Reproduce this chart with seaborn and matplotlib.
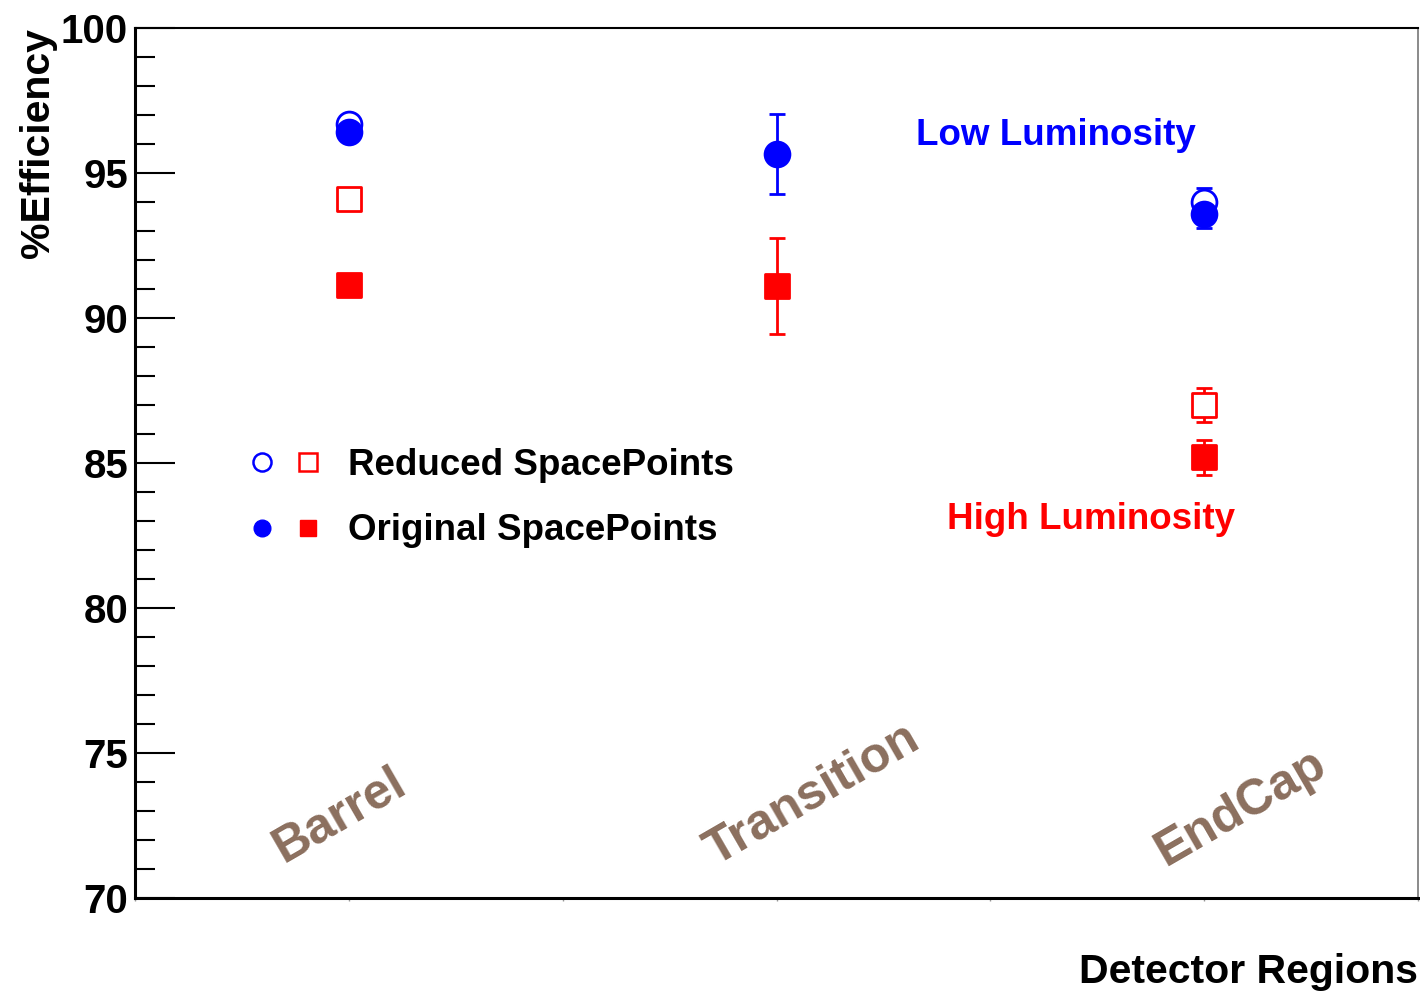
import numpy as np
import pandas as pd
import matplotlib
matplotlib.use("Agg")
import matplotlib.pyplot as plt
import seaborn as sns
from matplotlib.lines import Line2D
from matplotlib.legend_handler import HandlerTuple
from matplotlib.ticker import MultipleLocator

# detector regions, drawn at the centres of three unit-wide bins
regions = ["Barrel", "Transition", "EndCap"]
region_x = [0.5, 1.5, 2.5]

# low luminosity (blue circles)
low_reduced = [96.7, np.nan, 94.0]
low_reduced_err = [0.15, np.nan, 0.5]
low_original = [96.4, 95.65, 93.6]
low_original_err = [0.15, 1.38, 0.5]

# high luminosity (red squares)
high_reduced = [94.1, np.nan, 87.0]
high_reduced_err = [0.15, np.nan, 0.6]
high_original = [91.15, 91.1, 85.2]
high_original_err = [0.15, 1.65, 0.6]

BLUE = "#0000ff"
RED = "#ff0000"
BROWN = "#8b6f5e"

sns.set_style("ticks")
plt.rcParams["font.family"] = ["Liberation Sans", "DejaVu Sans"]
plt.rcParams["font.weight"] = "bold"
for key in ["text.color", "axes.labelcolor", "xtick.color", "ytick.color",
            "xtick.labelcolor", "ytick.labelcolor"]:
    plt.rcParams[key] = "black"

fig = plt.figure(figsize=(14.2, 9.93), dpi=100)
ax = fig.add_axes([135 / 1420, 1 - 898 / 993, 1283 / 1420, 870 / 993])

series = [
    (low_reduced, low_reduced_err, BLUE, "o", False),
    (low_original, low_original_err, BLUE, "o", True),
    (high_reduced, high_reduced_err, RED, "s", False),
    (high_original, high_original_err, RED, "s", True),
]

for vals, errs, col, mk, filled in series:
    df = pd.DataFrame({"x": region_x, "y": vals, "err": errs}).dropna()
    ax.errorbar(df["x"], df["y"], yerr=df["err"], fmt="none", ecolor=col,
                elinewidth=2, capsize=6, capthick=2, zorder=2)
    sns.scatterplot(data=df, x="x", y="y", ax=ax, marker=mk, s=320,
                    color=col if filled else "white",
                    edgecolor=col, linewidth=2, zorder=3, legend=False)

ax.set_xlim(0, 3)
ax.set_ylim(70, 100)
ax.set_xlabel("")
ax.set_ylabel("")

ax.xaxis.set_major_locator(MultipleLocator(0.5))
ax.tick_params(axis="x", direction="out", length=2, width=1, color="#999999",
               labelbottom=False)
ax.yaxis.set_major_locator(MultipleLocator(5))
ax.yaxis.set_minor_locator(MultipleLocator(1))
ax.tick_params(axis="y", which="major", direction="in", length=29, width=1.5,
               color="black", labelcolor="black", labelsize=29, pad=5)
ax.tick_params(axis="y", which="minor", direction="in", length=14.5, width=1.5,
               color="black")
for lab in ax.get_yticklabels():
    lab.set_fontweight("bold")

for side in ["left", "bottom"]:
    ax.spines[side].set_linewidth(2.2)
    ax.spines[side].set_color("black")
ax.spines["top"].set_linewidth(1.5)
ax.spines["top"].set_color("black")
ax.spines["right"].set_linewidth(1.2)
ax.spines["right"].set_color("#777777")

# region names written inside the frame
label_pos = [(0.48, 72.85), (1.585, 73.55), (2.586, 73.1)]
for name, (lx, ly) in zip(regions, label_pos):
    ax.text(lx, ly, name, rotation=30, color=BROWN, fontsize=36,
            fontweight="bold", ha="center", va="center")

ax.text(2.153, 96.3, "Low Luminosity", color=BLUE, fontsize=26.5,
        fontweight="bold", ha="center", va="center")
ax.text(2.235, 83.05, "High Luminosity", color=RED, fontsize=26.5,
        fontweight="bold", ha="center", va="center")

h_open = (Line2D([], [], ls="none", marker="o", ms=13, mfc="white", mec=BLUE, mew=1.8),
          Line2D([], [], ls="none", marker="s", ms=13, mfc="white", mec=RED, mew=1.8))
h_fill = (Line2D([], [], ls="none", marker="o", ms=12, mfc=BLUE, mec=BLUE),
          Line2D([], [], ls="none", marker="s", ms=12, mfc=RED, mec=RED))
ax.legend([h_open, h_fill], ["Reduced SpacePoints", "Original SpacePoints"],
          handler_map={tuple: HandlerTuple(ndivide=None, pad=0.35)},
          loc="upper left", bbox_to_anchor=(0.0857, 0.517), frameon=False,
          fontsize=26.5, handlelength=2.15, handletextpad=0.65, labelspacing=0.82,
          borderaxespad=0, borderpad=0)

fig.text(38 / 1420, 1 - 28 / 993, "%Efficiency", rotation=90, ha="center",
         va="top", fontsize=29.5, fontweight="bold")
fig.text(1418 / 1420, 1 - 972 / 993, "Detector Regions", ha="right",
         va="center", fontsize=29.5, fontweight="bold")

fig.savefig("out.png", dpi=100)
